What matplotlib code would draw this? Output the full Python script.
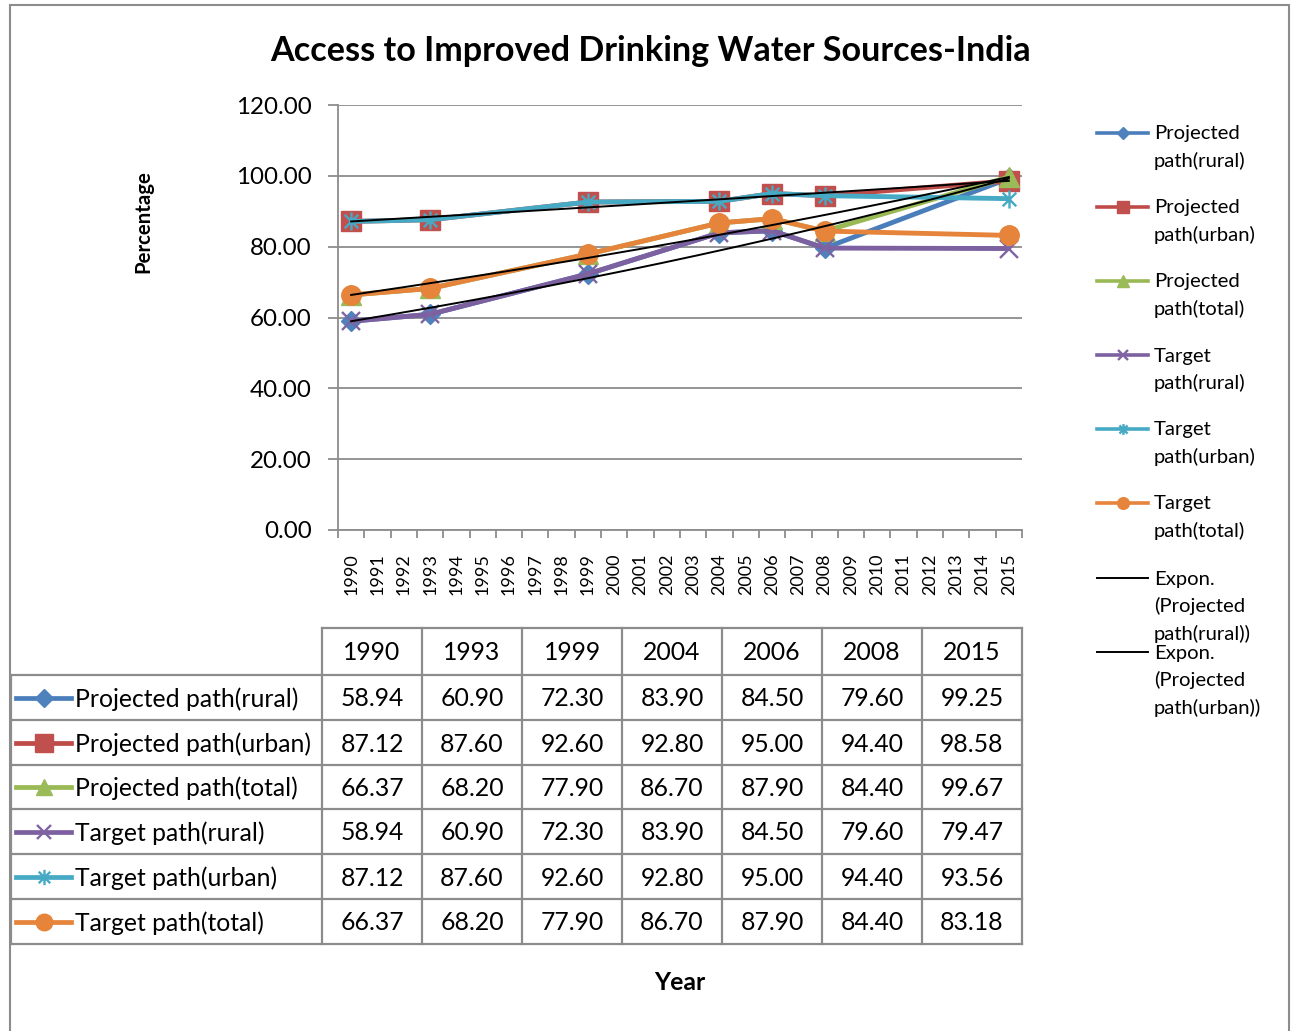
import numpy as np
import matplotlib
matplotlib.use("Agg")
import matplotlib.pyplot as plt
from matplotlib.lines import Line2D
from matplotlib.path import Path
from matplotlib.patches import Rectangle

plt.rcParams['font.family'] = ['Lato', 'DejaVu Sans']

# ---------------- data ----------------
axis_years = [str(y) for y in range(1990, 2016)]
data_years = [1990, 1993, 1999, 2004, 2006, 2008, 2015]
proj_rural = [58.94, 60.90, 72.30, 83.90, 84.50, 79.60, 99.25]
proj_urban = [87.12, 87.60, 92.60, 92.80, 95.00, 94.40, 98.58]
proj_total = [66.37, 68.20, 77.90, 86.70, 87.90, 84.40, 99.67]
targ_rural = [58.94, 60.90, 72.30, 83.90, 84.50, 79.60, 79.47]
targ_urban = [87.12, 87.60, 92.60, 92.80, 95.00, 94.40, 93.56]
targ_total = [66.37, 68.20, 77.90, 86.70, 87.90, 84.40, 83.18]
series_names = ["Projected path(rural)", "Projected path(urban)", "Projected path(total)",
                "Target path(rural)", "Target path(urban)", "Target path(total)"]
legend_names = ["Projected\npath(rural)", "Projected\npath(urban)", "Projected\npath(total)",
                "Target\npath(rural)", "Target\npath(urban)", "Target\npath(total)"]
trend_names = ["Expon.\n(Projected\npath(rural))", "Expon.\n(Projected\npath(urban))"]
yticks = [0, 20, 40, 60, 80, 100, 120]

series = [proj_rural, proj_urban, proj_total, targ_rural, targ_urban, targ_total]

# ---------------- styles ----------------
asterisk = Path([(0, -1), (0, 1), (-0.75, -0.75), (0.75, 0.75), (-0.75, 0.75), (0.75, -0.75)],
                [Path.MOVETO, Path.LINETO, Path.MOVETO, Path.LINETO, Path.MOVETO, Path.LINETO])
styles = [
    dict(color="#4A7EBB", marker="D", mfc="#4F81BD", mec="#4F81BD", ms=10.5),
    dict(color="#BE4B48", marker="s", mfc="#C0504D", mec="#C0504D", ms=15),
    dict(color="#98B954", marker="^", mfc="#9BBB59", mec="#9BBB59", ms=14),
    dict(color="#7D60A0", marker="x", mfc="#8064A2", mec="#8064A2", ms=12.5, mew=1.7),
    dict(color="#46AAC5", marker=asterisk, mfc="none", mec="#46AAC5", ms=13, mew=1.7),
    dict(color="#E5843A", marker="o", mfc="#E5843A", mec="#E5843A", ms=14),
]

W, H = 1291, 1031
fig = plt.figure(figsize=(W / 100, H / 100), dpi=100)

def fx(px):
    return px / W

def fy(py):
    return 1 - py / H

# outer frame
fig.add_artist(Rectangle((fx(10), fy(1040)), fx(1289) - fx(10), fy(5) - fy(1040),
                         transform=fig.transFigure, fill=False, ec="#8C8C8C", lw=1.5))

ax = fig.add_axes([fx(338), fy(530), fx(1022) - fx(338), fy(105) - fy(530)])
x = np.array([axis_years.index(str(y)) for y in data_years])

for vals, st in zip(series, styles):
    ax.plot(x, vals, lw=3.5, solid_capstyle="round", solid_joinstyle="round", zorder=3, **st)

# exponential trendlines for the projected series
xx = np.linspace(x.min(), x.max(), 200)
for vals in [proj_rural, proj_urban, proj_total]:
    b, a = np.polyfit(x, np.log(vals), 1)
    ax.plot(xx, np.exp(a + b * xx), color="black", lw=1.4, zorder=4)

ax.set_xlim(-0.5, len(axis_years) - 0.5)
ax.set_ylim(0, 120)
ax.set_yticks(yticks)
ax.set_yticklabels([f"{v:.2f}" for v in yticks])
ax.set_xticks(range(len(axis_years)))
ax.set_xticklabels(axis_years, rotation=90)
ax.set_xticks(np.arange(-0.5, len(axis_years)), minor=True)
ax.tick_params(axis="x", which="major", length=0, pad=17, labelsize=13, colors="black")
ax.tick_params(axis="x", which="minor", length=6, width=1.3, color="#8C8C8C")
ax.tick_params(axis="y", length=7, width=1.3, color="#8C8C8C", pad=12, labelsize=17.4)
ax.grid(axis="y", color="#8C8C8C", lw=1.3, zorder=0)
for s in ["top", "right"]:
    ax.spines[s].set_visible(False)
for s in ["left", "bottom"]:
    ax.spines[s].set_color("#8C8C8C")
    ax.spines[s].set_linewidth(1.3)
ax.set_axisbelow(True)

# title and axis titles
fig.text(fx(650), fy(51), "Access to Improved Drinking Water Sources-India", ha="center", va="center",
         fontsize=24.6, fontweight="bold")
fig.text(fx(143), fy(222), "Percentage", ha="center", va="center", rotation=90,
         fontsize=14.7, fontweight="bold")
fig.text(fx(680), fy(982), "Year", ha="center", va="center", fontsize=17.8, fontweight="bold")

# ---------------- legend (right) ----------------
def key(x0, x1, y, st, lw=3.0, ms_scale=0.7):
    ln = Line2D([fx(x0), fx(x1)], [fy(y), fy(y)], transform=fig.transFigure,
                color=st["color"], lw=lw)
    fig.add_artist(ln)
    mk = Line2D([fx((x0 + x1) / 2)], [fy(y)], transform=fig.transFigure, linestyle="none",
                marker=st["marker"], mfc=st["mfc"], mec=st["mec"], ms=st["ms"] * ms_scale,
                mew=st.get("mew", 1.0))
    fig.add_artist(mk)

LEG_FS = 14.6
LEG_LS = 1.63
for i, (name, st) in enumerate(zip(legend_names, styles)):
    y0 = 133 + 74 * i
    key(1097, 1148, y0, st, lw=2.6, ms_scale=0.6)
    fig.text(fx(1154), fy(y0 - 7.5), name, ha="left", va="top", fontsize=LEG_FS, linespacing=LEG_LS)
for j, name in enumerate(trend_names):
    y0 = 578 + 74 * j
    fig.add_artist(Line2D([fx(1097), fx(1148)], [fy(y0), fy(y0)], transform=fig.transFigure,
                          color="black", lw=1.4))
    fig.text(fx(1154), fy(y0 - 7.5), name, ha="left", va="top", fontsize=LEG_FS, linespacing=LEG_LS)

# ---------------- data table ----------------
gc = "#8C8C8C"
col_x = [322 + 100 * k for k in range(len(data_years) + 1)]
row_y = [675, 720, 765, 809, 854, 899, 944]
TAB_FS = 17.8

def hline(x0, x1, y):
    fig.add_artist(Line2D([fx(x0), fx(x1)], [fy(y), fy(y)], transform=fig.transFigure, color=gc, lw=1.6))

def vline(x0, y0, y1):
    fig.add_artist(Line2D([fx(x0), fx(x0)], [fy(y0), fy(y1)], transform=fig.transFigure, color=gc, lw=1.6))

hline(col_x[0], col_x[-1], 628)
for yv in row_y:
    hline(11, col_x[-1], yv)
for xv in col_x:
    vline(xv, 628, row_y[-1])
vline(11, row_y[0], row_y[-1])

for k, yr in enumerate(data_years):
    fig.text(fx((col_x[k] + col_x[k + 1]) / 2), fy(653), str(yr), ha="center", va="center", fontsize=TAB_FS)

for r, (name, vals, st) in enumerate(zip(series_names, series, styles)):
    yc = (row_y[r] + row_y[r + 1]) / 2
    key(16, 71, yc, st, lw=3.4, ms_scale=0.85)
    fig.text(fx(75), fy(yc + 1.5), name, ha="left", va="center", fontsize=TAB_FS)
    for k, v in enumerate(vals):
        fig.text(fx((col_x[k] + col_x[k + 1]) / 2), fy(yc + 1.5), f"{v:.2f}", ha="center", va="center",
                 fontsize=TAB_FS)

fig.savefig("out.png", dpi=100)
